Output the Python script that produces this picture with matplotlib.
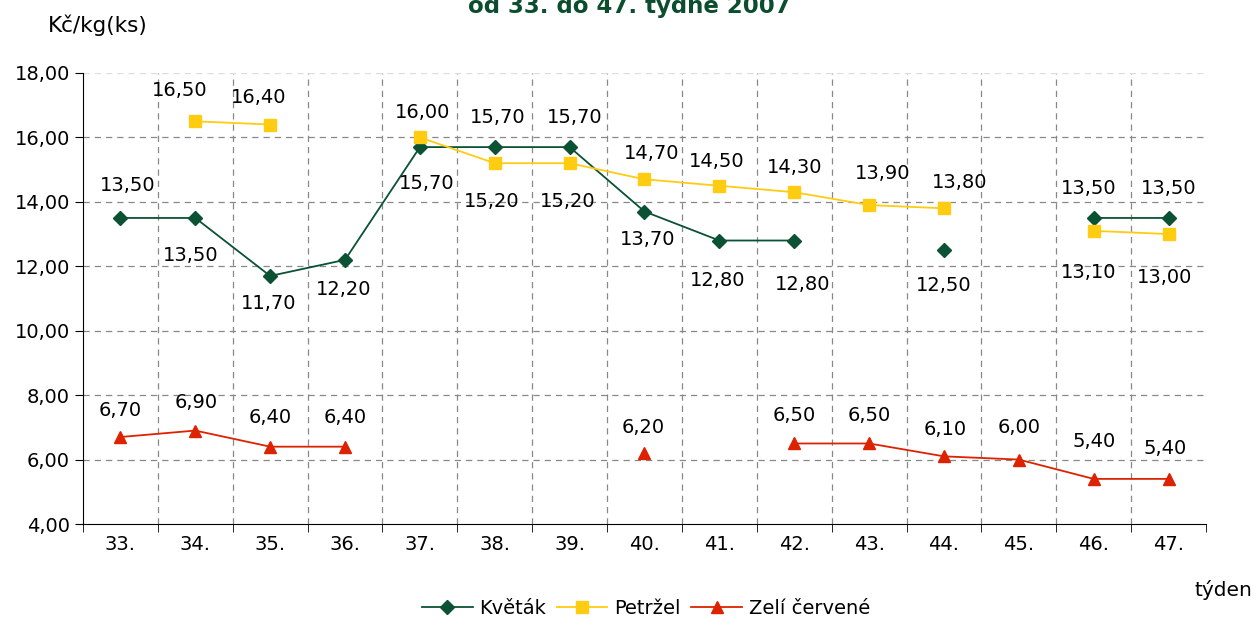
import numpy as np
import matplotlib.pyplot as plt

weeks = ['33.', '34.', '35.', '36.', '37.', '38.', '39.', '40.', '41.', '42.', '43.', '44.', '45.', '46.', '47.']
nan = np.nan
kvetak = [13.5, 13.5, 11.7, 12.2, 15.7, 15.7, 15.7, 13.7, 12.8, 12.8, nan, 12.5, nan, 13.5, 13.5]
petrzel = [nan, 16.5, 16.4, nan, 16.0, 15.2, 15.2, 14.7, 14.5, 14.3, 13.9, 13.8, nan, 13.1, 13.0]
zeli = [6.7, 6.9, 6.4, 6.4, nan, nan, nan, 6.2, nan, 6.5, 6.5, 6.1, 6.0, 5.4, 5.4]

# label offsets in pixels (dx, dy), one per week
kvetak_off = [(7, 32), (-5, -38), (-2, -28), (-1, -30), (7, -36), (3, 30), (5, 30), (3, -28),
              (-2, -40), (8, -44), None, (0, -35), None, (-5, 29), (0, 29)]
petrzel_off = [None, (-16, 31), (-12, 27), None, (3, 25), (-3, -38), (-2, -38), (7, 26),
               (-3, 24), (0, 25), (14, 32), (16, 26), None, (-5, -42), (-4, -43)]
zeli_off = [(0, 27), (1, 28), (0, 29), (0, 29), None, None, None, (-1, 26),
            None, (0, 28), (0, 28), (1, 27), (0, 32), (0, 37), (-3, 30)]

fig = plt.figure(figsize=(12.54, 6.19), dpi=100)
ax = fig.add_axes([83 / 1254, 1 - 524 / 619, (1206 - 83) / 1254, (524 - 73) / 619])

x = np.arange(len(weeks))
series = [
    ('Květák', kvetak, kvetak_off, '#0b5234', 'D', 7),
    ('Petržel', petrzel, petrzel_off, '#ffcc11', 's', 8),
    ('Zelí červené', zeli, zeli_off, '#dd2200', '^', 9),
]
for name, vals, offs, col, mk, ms in series:
    ax.plot(x, vals, color=col, marker=mk, markersize=ms, linewidth=1.3,
            label=name, zorder=3)
    for xi, v, o in zip(x, vals, offs):
        if np.isnan(v) or o is None:
            continue
        ax.annotate(f'{v:.2f}'.replace('.', ','), (xi, v), xytext=o,
                    textcoords='offset pixels', ha='center', va='center',
                    fontsize=14, color='black')

ax.set_xlim(-0.5, len(weeks) - 0.5)
ax.set_ylim(4, 18)
yt = np.arange(4, 19, 2)
ax.set_yticks(yt)
ax.set_yticklabels([f'{v:.2f}'.replace('.', ',') for v in yt], fontsize=14)
ax.set_xticks(x)
ax.set_xticklabels(weeks, fontsize=14)
ax.set_xticks(np.arange(-0.5, len(weeks), 1), minor=True)
ax.tick_params(axis='x', which='major', length=0, pad=8)
ax.tick_params(axis='x', which='minor', length=6, direction='out')
ax.tick_params(axis='y', length=6, direction='out')
for b in np.arange(0.5, len(weeks) - 1, 1):
    ax.axvline(b, color='#888888', linestyle=(0, (5, 4)), linewidth=0.9, zorder=1)
for v in yt[1:]:
    ax.axhline(v, color='#888888' if v < 18 else '#dddddd', linestyle=(0, (5, 4)),
               linewidth=0.9, zorder=1)
ax.spines['top'].set_visible(False)
ax.spines['right'].set_visible(False)

fig.text(629 / 1254, 1 - 13 / 619, 'od 33. do 47. týdne 2007', ha='center', va='baseline',
         fontsize=16.5, fontweight='bold', color='#0b4d2e')
fig.text(48 / 1254, 1 - 25 / 619, 'Kč/kg(ks)', ha='left', va='center', fontsize=15.5)
fig.text(1252 / 1254, 1 - 590 / 619, 'týden', ha='right', va='center', fontsize=14.5)

ax.legend(loc='center', bbox_to_anchor=(646 / 1254, 1 - 608 / 619), bbox_transform=fig.transFigure,
          ncol=3, frameon=False, fontsize=14, handlelength=2.6, columnspacing=0.55,
          handletextpad=0.35)

fig.savefig('out.png', dpi=100)
